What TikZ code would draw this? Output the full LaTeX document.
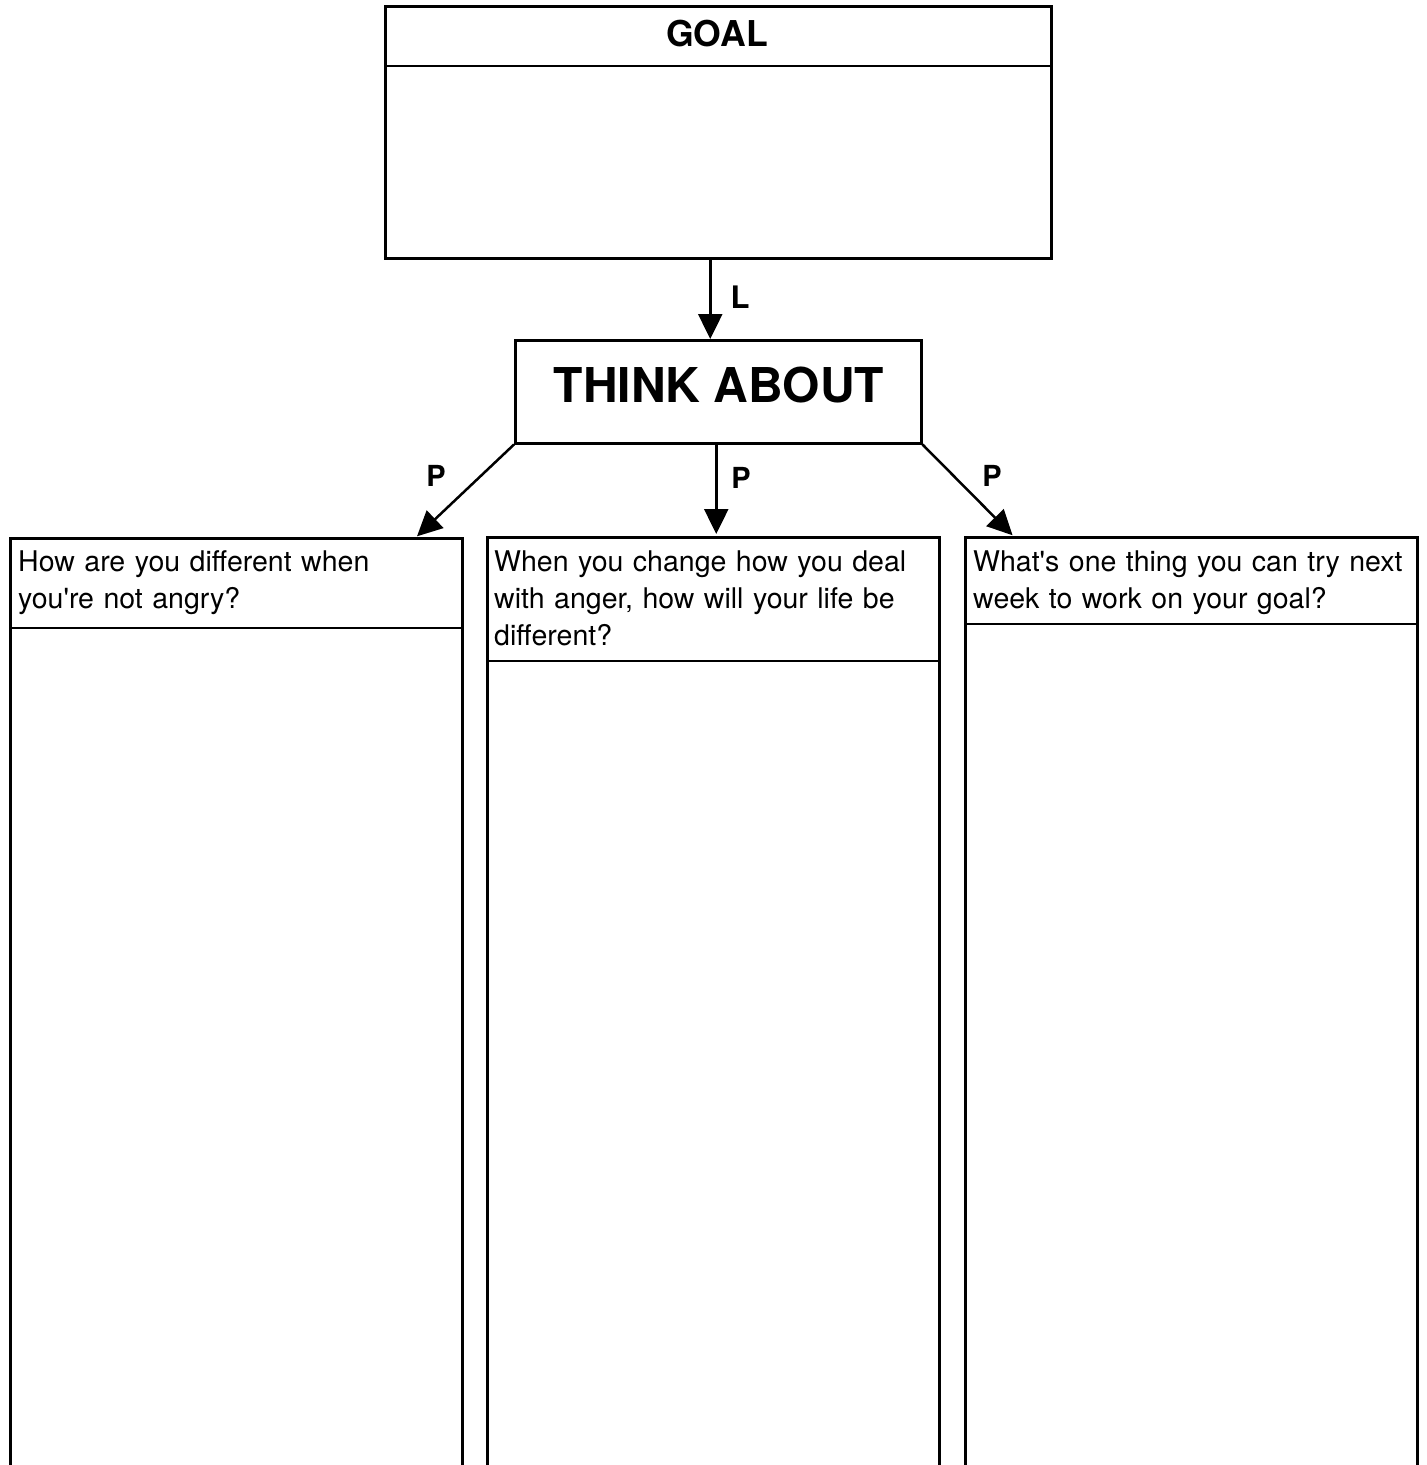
\documentclass[tikz,border=0pt]{standalone}
\usepackage{fontspec}
\setmainfont{TeX Gyre Heros}
\usetikzlibrary{arrows.meta}
\begin{document}
\begin{tikzpicture}[x=1pt,y=-1pt,
  box/.style={draw, line width=2.5pt, inner sep=0pt, anchor=north west},
  arr/.style={line width=2.5pt, -{Triangle[length=25pt,width=24pt]}},
  lbl/.style={font=\fontsize{29}{30}\selectfont\bfseries, inner sep=0pt},
  qtext/.style={font=\fontsize{28.5}{37}\selectfont, text width=450pt, align=left, inner sep=0pt, anchor=base west},
  divline/.style={line width=2.2pt}]
\useasboundingbox (0,0) rectangle (1427,1465);
\clip (0,0) rectangle (1427,1465);
% goal
\node[box, minimum width=666pt, minimum height=252pt] (goal) at (384,5) {};
\draw[divline] ([yshift=-61pt]goal.north west) -- ([yshift=-61pt]goal.north east);
\node[font=\fontsize{35.6}{40}\selectfont\bfseries, inner sep=0pt] (goaltitle) at (717,34) {GOAL};
% think about
\node[box, minimum width=406pt, minimum height=103pt] (think) at (514,339) {};
\node[font=\fontsize{48}{50}\selectfont\bfseries, inner sep=0pt] (thinktext) at (719,384.5) {THINK ABOUT};
% columns
\node[box, minimum width=452pt, minimum height=1000pt] (left) at (9,537) {};
\node[box, minimum width=452pt, minimum height=1000pt] (mid) at (486,536) {};
\node[box, minimum width=452pt, minimum height=1000pt] (right) at (964,536) {};
\draw[divline] ([yshift=-91pt]left.north west) -- ([yshift=-91pt]left.north east);
\draw[divline] ([yshift=-125pt]mid.north west) -- ([yshift=-125pt]mid.north east);
\draw[divline] ([yshift=-88pt]right.north west) -- ([yshift=-88pt]right.north east);
\node[qtext] (q1) at (18,571) {How are you different when\\you\textquotesingle re not angry?};
\node[qtext] (q2) at (494,571) {When you change how you deal\\with anger, how will your life be\\different?};
\node[qtext] (q3) at (973,571) {What\textquotesingle s one thing you can try next\\week to work on your goal?};
% connectors
\draw[arr] ([xshift=-8pt]goal.south) -- ([xshift=-8pt]think.north);
\draw[arr, shorten >=2pt] ([xshift=-2pt]think.south) -- ([xshift=3pt]mid.north);
\draw[arr, shorten >=1pt] (think.south west) -- ([xshift=180pt]left.north);
\draw[arr, shorten >=1pt] (think.south east) -- ([xshift=-178pt]right.north);
% labels
\node[lbl, font=\fontsize{31}{32}\selectfont\bfseries] (lL) at (740,297) {L};
\node[lbl] (lP1) at (436,476) {P};
\node[lbl] (lP2) at (741,478) {P};
\node[lbl] (lP3) at (992,476) {P};
\end{tikzpicture}
\end{document}
